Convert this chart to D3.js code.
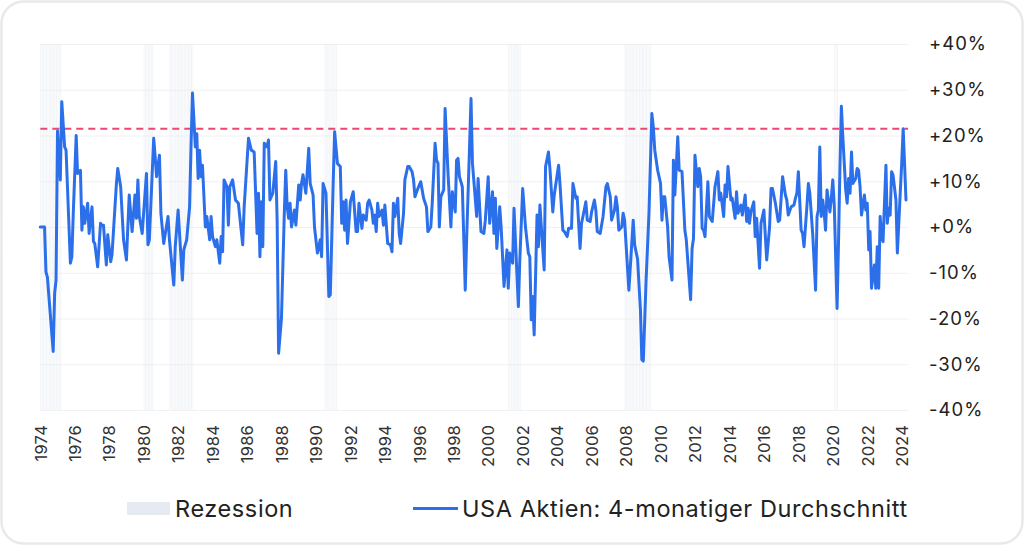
<!DOCTYPE html>
<html><head><meta charset="utf-8">
<script src="https://cdn.jsdelivr.net/npm/d3@7"></script>
<style>body{margin:0;background:#fff;font-family:Inter,"Noto Sans",sans-serif}</style>
</head><body>
<svg id="chart" width="1024" height="545"></svg>
<script>
// ---- data ----
const startYear = 1974;
// months since Jan 1974 (vertices)
const monthsSince1974 = [
0,3,4,5,9,10,11,12,14,15,
17,18,21,22,23,25,26,28,29,30,
31,33,34,36,37,38,40,42,43,44,
46,47,49,50,53,54,56,58,60,62,
64,66,67,68,69,71,74,75,76,79,
80,81,83,84,86,89,90,93,94,96,
99,100,102,104,105,106,108,109,110,111,
112,113,115,116,118,119,120,122,123,125,
126,127,128,130,131,132,134,136,138,141,
142,145,147,149,151,152,153,154,155,156,
158,159,160,162,164,165,166,168,170,171,
172,173,174,175,177,178,180,181,182,183,
185,187,188,190,191,193,195,196,197,199,
201,202,204,205,207,209,210,211,212,213,
214,216,218,220,221,222,224,225,227,228,
229,231,232,233,234,235,236,238,239,240,
242,244,245,246,247,249,250,251,253,254,
256,257,259,260,261,263,265,267,269,270,
272,273,275,276,277,278,279,281,282,284,
286,287,289,290,291,292,294,296,297,299,
300,301,302,304,305,307,309,310,312,313,
315,316,317,318,320,321,323,325,326,327,
329,330,333,334,336,338,340,341,342,343,
344,346,347,348,351,352,354,355,357,358,
361,362,364,365,367,368,370,371,373,374,
376,377,378,380,381,383,384,386,387,388,
390,392,394,395,397,398,400,401,402,403,
405,406,407,410,413,414,416,418,419,420,
422,424,426,427,428,430,432,433,434,435,
437,438,440,441,442,444,445,447,449,450,
453,454,455,456,458,459,460,461,462,463,
465,466,468,470,472,473,474,476,477,478,
479,481,482,484,485,486,488,489,491,492,
493,494,495,497,498,499,501,502,504,506,
508,509,510,512,514,515,517,519,520,521,
523,525,526,527,528,530,531,532,534,535,
536,538,540,541,542,543,544,545,546,547,
548,550,551,552,553,555,556,557,558,559,
561,562,563,564,565,566,568,569,570,571,
572,574,575,576,577,578,579,581,582,583,
584,585,586,587,589,590,591,592,593,594,
596,597,599,600,601,602,603
];
// USA Aktien: 4-monatiger Durchschnitt (%)
const values = [
0,0,-9.8,-11,-27.2,-14.5,-11.6,21,10.3,27.4,
17.5,16.8,-7.9,-6.5,3,20,11.7,12.4,-0.7,4.4,
0.8,5.2,-1.4,4.4,-3.2,-3.6,-8.7,0.8,0.4,0.4,
-8.3,-1.7,-7.6,-6.1,9.2,12.8,8.8,-2.8,-7.2,7,
-1,7,1.9,10.3,2.3,-1.4,11.7,-3.9,-2.8,19.4,
15.4,11,15.7,3,-3.6,2.3,-2.8,-12.7,-4.3,3.7,
-11.6,-5,-2.8,4.4,17.5,29.3,17.5,20.4,10.6,16.8,
11,13.5,0,2.3,-2.8,2.3,-2.1,-4.3,-2.8,-7.9,
-2.1,-5.4,10.3,8.8,0.4,8.8,10.3,5.9,5.2,-3.9,
4.4,19.4,16.8,16.4,-1.4,7.4,-6.5,5.5,-4.3,18.3,
17.5,19,5.9,7.4,14.3,1.5,-27.6,-19.9,3,12.4,
4.4,1.9,5.2,0,3.7,0.4,9.2,5.9,9.5,11.4,
7.4,17.2,9.5,7,0,-5.7,-2.8,-6.5,9.5,7.4,
-15.2,-14.8,9.5,20.8,13.9,13.2,0.8,5.5,-0.7,5.9,
-3.6,5.5,7.7,-1,-1,5.2,-0.3,2.6,1.5,5.2,
5.9,3.7,0.8,2.6,-1,5.2,2.3,3.7,0.4,4.8,
-3.6,-3.9,-5.4,5.2,2.3,6.3,-1.4,-3.6,3,10.3,
13.2,13.2,12.1,10.3,6.6,8.4,9.9,6.3,4.4,-1,
0,5.2,18.3,14.6,13.9,0,6.6,8.1,25.9,11.7,
0,7.7,3.3,14.6,15,11,8.8,-13.8,-2.5,17.5,
28.1,13.9,10.3,2.3,10.6,-1,-1.4,1.5,11,0.8,
7.7,-1.4,6.3,-4.7,4.4,0,-13,-5,-13.4,-5.7,
-7.9,4.1,-17.4,-7.2,8.4,0,-5.7,-6.5,-20.3,-15.2,
-23.6,2.6,-4.3,4.8,-9.4,13.2,16.4,12.8,3.3,7,
13.5,9.5,-0.7,-1,-2.1,-0.3,-0.3,9.5,6.3,6.6,
-4.7,0.8,2.3,5.5,1.5,1.2,3.3,5.9,3.7,-1,
-1.4,2.3,8.8,9.5,6.6,1.5,3.7,6.6,4.4,-0.7,
0,3,1.5,-13.8,1.5,-3.9,-7,-18.1,-29,-29.3,
-11.6,3,24.8,21.9,16.8,12.4,9.5,1.5,6.6,6.6,
0,-6.5,-11.6,14.6,7,19.7,12.4,12.1,-0.7,-2.8,
-15.9,-4.7,-2.5,15.7,8.8,12.8,11,-0.3,-0.7,-2.1,
9.9,2.3,1.2,8.8,12.1,5.9,7.4,2.3,9.2,6.6,
13.2,5.9,6.3,1.9,7.7,3,4.8,2.6,7,1.2,
4.1,0.8,3.3,5.5,-2.1,1.9,-9,0.8,3.7,-7.2,
0,8.4,8.4,5.2,1.2,1.5,11,7,5.9,2.6,
4.4,4.8,6.3,7.4,12.1,-0.7,-1.4,-4.3,4.4,9.5,
7.4,-1.5,-13.8,2.3,3.7,17.5,2.3,5.9,3.3,-0.7,
8.1,3.3,6.3,10.3,4.8,-17.8,-3.6,13.2,26.4,19.7,
8.1,5.2,10.6,7.4,16.4,9.5,10.6,12.8,12.4,8.8,
2.6,7,3.7,5.2,-5,-1,-13.4,-8.3,-13.4,-4.3,
-13.4,2.3,-2.1,-3.2,13.5,0.8,4.1,2.6,12.1,11.4,
5.9,-5.7,7.4,13.9,21.5,13.9,5.9
];
// Recession periods (first month, last month)
const recessionStarts = ["1974-01","1980-01","1981-07","1990-07","2001-03","2007-12","2020-02"];
const recessionEnds   = ["1975-03","1980-07","1982-11","1991-03","2001-11","2009-06","2020-04"];
const yTickValues = [-40,-30,-20,-10,0,10,20,30,40];
const xTickYears = d3.range(1974, 2025, 2);
const thresholdValue = 21.5;
const legendLabels = ["Rezession", "USA Aktien: 4-monatiger Durchschnitt"];

// ---- drawing ----
const W = 1024, H = 545;
const svg = d3.select("#chart");
const plotLeft = 40.3, plotRight = 908, plotTop = 44, plotBottom = 410;
const parse = d3.timeParse("%Y-%m");

const x = d3.scaleTime()
  .domain([new Date(1974,0,1), new Date(2024,0,1)])
  .range([plotLeft, 901.7]);
const y = d3.scaleLinear().domain([-40,40]).range([plotBottom, plotTop]);

// card
svg.append("rect").attr("x",1.5).attr("y",1.5).attr("width",W-3).attr("height",H-3)
  .attr("rx",22).attr("fill","#fff").attr("stroke","#e9e9e9").attr("stroke-width",2.5);

// gridlines
const grid = svg.append("g").attr("transform",`translate(${plotLeft},0)`)
  .call(d3.axisRight(y).tickValues(yTickValues).tickSize(plotRight-plotLeft).tickFormat(""));
grid.select(".domain").remove();
grid.selectAll("line").attr("stroke","#f1f1f1").attr("stroke-width",1);

// recession months
const recMonths = [];
recessionStarts.forEach((s,i)=>{
  const a = parse(s), b = parse(recessionEnds[i]);
  d3.timeMonth.range(a, d3.timeMonth.offset(b,1)).forEach(d=>recMonths.push(d));
});
svg.append("g").selectAll("rect").data(recMonths).join("rect")
  .attr("x", d=>x(d))
  .attr("width", d=>Math.max(0.5, x(d3.timeMonth.offset(d,1))-x(d)-0.5))
  .attr("y", plotTop).attr("height", plotBottom-plotTop)
  .attr("fill","#e6ebf2").attr("opacity",0.5);

// threshold dashed line
svg.append("line").attr("x1",plotLeft).attr("x2",plotRight)
  .attr("y1",y(thresholdValue)).attr("y2",y(thresholdValue))
  .attr("stroke","#ec4672").attr("stroke-width",2).attr("stroke-dasharray","7,5");

// series line
const data = monthsSince1974.map((m,i)=>({date:new Date(startYear, m, 1), value:values[i]}));
svg.append("path").datum(data)
  .attr("fill","none").attr("stroke","#2c6fea").attr("stroke-width",3)
  .attr("stroke-linejoin","round").attr("stroke-linecap","round")
  .attr("d", d3.line().x(d=>x(d.date)).y(d=>y(d.value)));

// y axis labels (right)
const yAxis = svg.append("g").attr("transform","translate(926,0)")
  .call(d3.axisRight(y).tickValues(yTickValues).tickSize(0).tickPadding(3)
    .tickFormat(d=>(d>=0?"+":"")+d+"%"));
yAxis.select(".domain").remove();
yAxis.selectAll("text").attr("font-family","Inter, sans-serif").attr("font-size",18.5)
  .attr("letter-spacing","1px").attr("fill","#222");

// x axis labels
const xAxis = svg.append("g").attr("transform",`translate(0,${plotBottom})`)
  .call(d3.axisBottom(x).tickValues(xTickYears.map(yr=>new Date(yr,0,1)))
    .tickSize(0).tickFormat(d3.timeFormat("%Y")));
xAxis.select(".domain").remove();
xAxis.selectAll("text")
  .attr("transform","rotate(-90)").attr("x",-15).attr("y",0).attr("dy","0.35em")
  .style("text-anchor","end")
  .attr("font-family","Inter, sans-serif").attr("font-size",16.5).attr("letter-spacing","0.2px").attr("fill","#333");

// legend
const lg = svg.append("g").attr("font-family","Inter, sans-serif").attr("font-size",23.5)
  .attr("letter-spacing","0.6px").attr("fill","#222");
lg.append("rect").attr("x",127).attr("y",502).attr("width",43).attr("height",13).attr("fill","#e6ebf2");
lg.append("text").attr("x",175).attr("y",516.5).text(legendLabels[0]);
lg.append("line").attr("x1",413).attr("x2",458).attr("y1",508.5).attr("y2",508.5)
  .attr("stroke","#2c6fea").attr("stroke-width",3);
lg.append("text").attr("x",462).attr("y",516.5).text(legendLabels[1]);
</script>
</body></html>
